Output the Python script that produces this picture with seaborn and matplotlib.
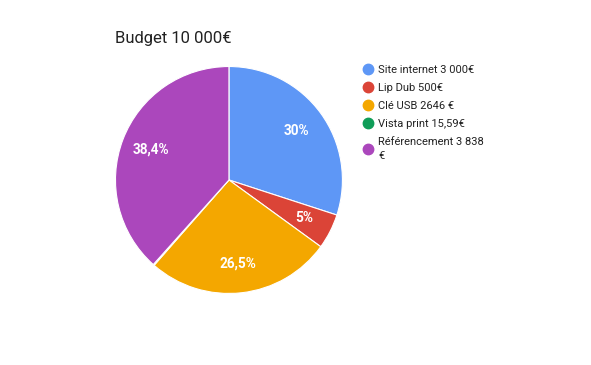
import matplotlib
matplotlib.use("Agg")
import matplotlib.pyplot as plt
import seaborn as sns
from matplotlib.lines import Line2D

categories = ["Site internet 3 000€", "Lip Dub 500€", "Clé USB 2646 €", "Vista print 15,59€", "Référencement 3 838\n€"]
values = [3000, 500, 2646, 15.59, 3838]
colors = ["#5E97F6", "#DB4437", "#F4A700", "#0F9D58", "#AB47BC"]
title = "Budget 10 000€"

sns.set_theme(style="white")
plt.rcParams['font.family'] = ['Roboto', 'DejaVu Sans']

fig = plt.figure(figsize=(5.91, 3.65), dpi=100)
ax = fig.add_axes([0.1954, 0.1959, 0.384, 0.622])

def fmt(p):
    if p < 2:
        return ""
    s = f"{p:.1f}".rstrip("0").rstrip(".")
    return s.replace(".", ",") + "%"

wedges, texts, autotexts = ax.pie(values, colors=colors, startangle=90, counterclock=False,
                                  autopct=fmt, pctdistance=0.74,
                                  wedgeprops=dict(edgecolor="white", linewidth=0.8),
                                  textprops=dict(color="white", fontsize=9.8, fontweight="bold"))
ax.set_xlim(-1, 1)
ax.set_ylim(-1, 1)
ax.set_aspect("equal")

fig.text(115/591, 1 - 38/365, title, fontsize=12, color="#222222", va="center", ha="left")

handles = [Line2D([0], [0], marker="o", linestyle="", markersize=7.5, markerfacecolor=c, markeredgecolor=c) for c in colors]
leg = fig.legend(handles, categories, loc="upper left", bbox_to_anchor=(361/591, 1 - 65/365),
                 frameon=False, fontsize=8, handletextpad=0.35, labelspacing=0.72, handlelength=1.2,
                 borderaxespad=0, borderpad=0)
for t in leg.get_texts():
    t.set_color("#222222")
    t.set_linespacing(1.5)

fig.savefig("out.png", dpi=100, facecolor="white")
